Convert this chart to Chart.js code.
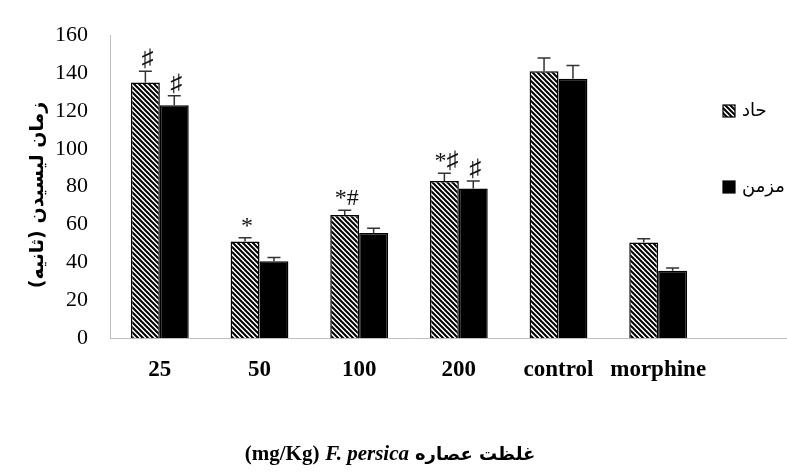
<!DOCTYPE html>
<html>
<head>
<meta charset="utf-8">
<script src="https://cdn.jsdelivr.net/npm/chart.js@4.4.1/dist/chart.umd.min.js"></script>
<style>
  html, body { margin: 0; padding: 0; background: #fff; }
  #wrap { width: 787px; height: 475px; }
</style>
</head>
<body>
<div id="wrap"><canvas id="chart" width="787" height="475"></canvas></div>
<script>
// values
var categories = ['25', '50', '100', '200', 'control', 'morphine'];
var acuteValues = [135, 51, 65, 83, 141, 50.5];
var chronicValues = [123, 40.5, 55.5, 79, 137, 35.5];
var acuteErrors = [6, 2, 2.5, 4, 7, 2];
var chronicErrors = [5, 2, 2.5, 4, 7, 1.5];
var acuteMarks = ['♯', '*', '*#', '*♯', '', ''];
var chronicMarks = ['♯', '', '', '♯', '', ''];
var seriesNames = ['حاد', 'مزمن'];
var yMin = 0, yMax = 160, yStep = 20;
var yTitle = 'زمان لیسیدن (ثانیه)';
var xTitleFa = 'غلظت عصاره';
var xTitleLatin = 'F. persica';
var xTitleUnit = '(mg/Kg)';

function makeHatch() {
    var c = document.createElement('canvas');
    c.width = 5; c.height = 5;
    var g = c.getContext('2d');
    g.fillStyle = '#fff';
    g.fillRect(0, 0, 5, 5);
    g.strokeStyle = '#000';
    g.lineWidth = 2;
    g.beginPath();
    g.moveTo(-1, -1); g.lineTo(6, 6);
    g.moveTo(-1, 4); g.lineTo(1, 6);
    g.moveTo(4, -1); g.lineTo(6, 1);
    g.stroke();
    return g.createPattern(c, 'repeat');
}

var hatch = makeHatch();

var errorBars = {
    id: 'errorBars',
    afterDatasetsDraw: function(chart) {
        var ctx = chart.ctx, y = chart.scales.y;
        var errs = [acuteErrors, chronicErrors];
        var marks = [acuteMarks, chronicMarks];
        chart.data.datasets.forEach(function(ds, i) {
            chart.getDatasetMeta(i).data.forEach(function(bar, j) {
                var top = y.getPixelForValue(ds.data[j] + errs[i][j]);
                ctx.save();
                ctx.strokeStyle = '#333';
                ctx.lineWidth = 1.5;
                ctx.beginPath();
                ctx.moveTo(bar.x, bar.y);
                ctx.lineTo(bar.x, top);
                ctx.moveTo(bar.x - 6.5, top);
                ctx.lineTo(bar.x + 6.5, top);
                ctx.stroke();
                if (marks[i][j]) {
                    ctx.fillStyle = '#111';
                    ctx.font = '24px "Liberation Serif", "DejaVu Sans"';
                    ctx.textAlign = 'center';
                    ctx.textBaseline = 'alphabetic';
                    ctx.fillText(marks[i][j], bar.x + 2, top - 5);
                }
                ctx.restore();
            });
        });
    }
};

var extras = {
    id: 'extras',
    afterDraw: function(chart) {
        var ctx = chart.ctx, area = chart.chartArea;
        ctx.save();
        // axis line carries on past the last category
        ctx.strokeStyle = '#bfbfbf';
        ctx.lineWidth = 1;
        ctx.beginPath();
        ctx.moveTo(area.right, area.bottom + 0.5);
        ctx.lineTo(chart.width, area.bottom + 0.5);
        ctx.stroke();

        // legend
        var fills = [hatch, '#000'];
        var rows = [111, 187];
        ctx.font = '18px "DejaVu Sans"';
        ctx.textBaseline = 'middle';
        ctx.textAlign = 'left';
        for (var i = 0; i < 2; i++) {
            ctx.fillStyle = fills[i];
            ctx.fillRect(723, rows[i] - 6, 12, 12);
            ctx.strokeStyle = '#000';
            ctx.lineWidth = 1.2;
            ctx.strokeRect(723, rows[i] - 6, 12, 12);
            ctx.fillStyle = '#000';
            ctx.fillText(seriesNames[i], 742, rows[i]);
        }

        // y title
        ctx.save();
        ctx.translate(38, 195);
        ctx.rotate(-Math.PI / 2);
        ctx.direction = 'rtl';
        ctx.textAlign = 'center';
        ctx.font = 'bold 19px "DejaVu Sans"';
        ctx.fillText(yTitle, 0, 0);
        ctx.restore();

        // x title, right to left
        var ty = 455;
        var fFa = 'bold 18px "DejaVu Sans"';
        var fLat = 'italic bold 21px "Liberation Serif"';
        var fUnit = 'bold 21px "Liberation Serif"';
        ctx.font = fFa; var w1 = ctx.measureText(xTitleFa).width;
        ctx.font = fLat; var w2 = ctx.measureText(xTitleLatin).width;
        ctx.font = fUnit; var w3 = ctx.measureText(xTitleUnit).width;
        var gap = 6;
        var total = w1 + w2 + w3 + gap * 2;
        var right = 390 + total / 2;
        ctx.textAlign = 'right';
        ctx.font = fFa; ctx.direction = 'rtl';
        ctx.fillText(xTitleFa, right, ty);
        ctx.direction = 'ltr';
        ctx.font = fLat;
        ctx.fillText(xTitleLatin, right - w1 - gap, ty);
        ctx.font = fUnit;
        ctx.fillText(xTitleUnit, right - w1 - w2 - gap * 2, ty);
        ctx.restore();
    }
};

new Chart(document.getElementById('chart'), {
    type: 'bar',
    data: {
        labels: categories,
        datasets: [
            {
                label: seriesNames[0],
                data: acuteValues,
                backgroundColor: hatch,
                borderColor: '#000',
                borderWidth: 1.5,
                categoryPercentage: 0.58,
                barPercentage: 1.0
            },
            {
                label: seriesNames[1],
                data: chronicValues,
                backgroundColor: '#000',
                borderColor: '#000',
                borderWidth: 1.5,
                categoryPercentage: 0.58,
                barPercentage: 1.0
            }
        ]
    },
    options: {
        responsive: false,
        animation: false,
        devicePixelRatio: 1,
        layout: { padding: { top: 23, right: 79, bottom: 0, left: 0 } },
        plugins: {
            legend: { display: false },
            tooltip: { enabled: false }
        },
        scales: {
            x: {
                grid: { display: false, drawTicks: false },
                border: { color: '#bfbfbf' },
                ticks: {
                    color: '#000',
                    padding: 18,
                    autoSkip: false,
                    maxRotation: 0,
                    font: { family: 'Liberation Serif', size: 23, weight: 'bold' }
                },
                afterFit: function(s) { s.height = 137; }
            },
            y: {
                min: yMin,
                max: yMax,
                grid: { display: false, drawTicks: false },
                border: { color: '#bfbfbf' },
                ticks: {
                    stepSize: yStep,
                    color: '#000',
                    padding: 22,
                    font: { family: 'Liberation Serif', size: 22 }
                },
                afterFit: function(s) { s.width = 110; }
            }
        }
    },
    plugins: [errorBars, extras]
});
</script>
</body>
</html>
